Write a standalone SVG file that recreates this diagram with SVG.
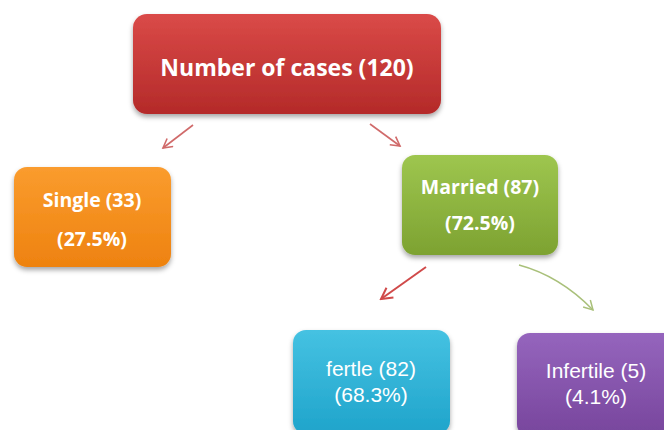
<svg xmlns="http://www.w3.org/2000/svg" width="664" height="430" viewBox="0 0 664 430">
<defs>
<linearGradient id="gRed" x1="0" y1="0" x2="0" y2="1"><stop offset="0" stop-color="#da4a48"/><stop offset="1" stop-color="#b42a29"/></linearGradient>
<linearGradient id="gOrange" x1="0" y1="0" x2="0" y2="1"><stop offset="0" stop-color="#fa9c2e"/><stop offset="1" stop-color="#ee820f"/></linearGradient>
<linearGradient id="gGreen" x1="0" y1="0" x2="0" y2="1"><stop offset="0" stop-color="#9ec64f"/><stop offset="1" stop-color="#7da231"/></linearGradient>
<linearGradient id="gBlue" x1="0" y1="0" x2="0" y2="1"><stop offset="0" stop-color="#45c2e2"/><stop offset="1" stop-color="#1fa4cb"/></linearGradient>
<linearGradient id="gPurple" x1="0" y1="0" x2="0" y2="1"><stop offset="0" stop-color="#9565bd"/><stop offset="1" stop-color="#77459c"/></linearGradient>
<filter id="sh" x="-10%" y="-10%" width="120%" height="130%"><feDropShadow dx="0" dy="3" stdDeviation="2.5" flood-color="#000" flood-opacity="0.35"/></filter>
<marker id="aRed" viewBox="0 0 12 12" refX="10" refY="6" markerWidth="12" markerHeight="12" markerUnits="userSpaceOnUse" orient="auto"><path d="M1,1 L10,6 L1,11" fill="none" stroke="#d06a6a" stroke-width="1.6"/></marker>
<marker id="aRed2" viewBox="0 0 14 14" refX="12" refY="7" markerWidth="14" markerHeight="14" markerUnits="userSpaceOnUse" orient="auto"><path d="M1,1 L12,7 L1,13" fill="none" stroke="#d04a4a" stroke-width="2"/></marker>
<marker id="aGreen" viewBox="0 0 12 12" refX="10" refY="6" markerWidth="12" markerHeight="12" markerUnits="userSpaceOnUse" orient="auto"><path d="M1,1 L10,6 L1,11" fill="none" stroke="#a9c07a" stroke-width="1.5"/></marker>
</defs>
<style>
.box{stroke:none;filter:url(#sh)}
.tb{font-family:"Open Sans","Liberation Sans",sans-serif;font-weight:bold;fill:#ffffff;text-anchor:middle}
.tn{font-family:"Liberation Sans",Arial,sans-serif;fill:#ffffff;text-anchor:middle;font-size:21px}
</style>
<rect width="664" height="430" fill="#ffffff"/>
<g id="connectors" fill="none">
<line x1="193" y1="125" x2="163" y2="148" stroke="#d06a6a" stroke-width="1.6" marker-end="url(#aRed)"/>
<line x1="370" y1="124" x2="400" y2="146" stroke="#d06a6a" stroke-width="1.6" marker-end="url(#aRed)"/>
<line x1="426" y1="267" x2="381" y2="299" stroke="#d04a4a" stroke-width="2" marker-end="url(#aRed2)"/>
<path d="M519,265 Q560,276 593,310" stroke="#a9c07a" stroke-width="1.5" marker-end="url(#aGreen)"/>
</g>
<g id="root">
<rect class="box" x="133" y="14" width="308" height="100" rx="14" fill="url(#gRed)"/>
<text class="tb" x="287" y="76" font-size="23">Number of cases (120)</text>
</g>
<g id="single">
<rect class="box" x="14" y="167" width="157" height="100" rx="13" fill="url(#gOrange)"/>
<text class="tb" x="92" y="207" font-size="19.5">Single (33)</text>
<text class="tb" x="92" y="246" font-size="19.5">(27.5%)</text>
</g>
<g id="married">
<rect class="box" x="402" y="155" width="156" height="100" rx="13" fill="url(#gGreen)"/>
<text class="tb" x="480" y="194" font-size="19.5">Married (87)</text>
<text class="tb" x="480" y="230" font-size="19.5">(72.5%)</text>
</g>
<g id="fertle">
<rect class="box" x="293" y="330" width="157" height="104" rx="13" fill="url(#gBlue)"/>
<text class="tn" x="371" y="376">fertle (82)</text>
<text class="tn" x="371" y="402">(68.3%)</text>
</g>
<g id="infertile">
<rect class="box" x="517" y="333" width="160" height="104" rx="13" fill="url(#gPurple)"/>
<text class="tn" x="596" y="378">Infertile (5)</text>
<text class="tn" x="596" y="404">(4.1%)</text>
</g>
</svg>
